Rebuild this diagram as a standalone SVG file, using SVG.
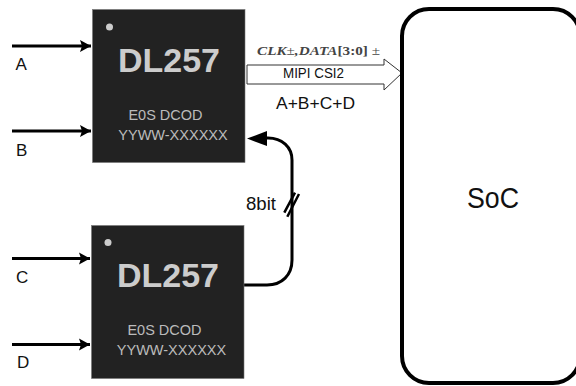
<svg xmlns="http://www.w3.org/2000/svg" width="576" height="386" viewBox="0 0 576 386">
<style>
.chip{fill:#222;stroke:#777;stroke-width:.6}
.dot{fill:#ccc}
.title{font:bold 34px "Liberation Sans",Arial,sans-serif;fill:#ccc;text-anchor:middle}
.small{font:14.500px "Liberation Sans",Arial,sans-serif;fill:#bbb;text-anchor:middle}
.lbl{font:17px "Liberation Sans",Arial,sans-serif;fill:#111}
.wire{fill:none;stroke:#000;stroke-width:3}
.head{fill:#000}
.nm{font-weight:normal;font-style:normal}
.up{font-style:normal}
</style>
<defs>
<marker id="ah" markerUnits="userSpaceOnUse" markerWidth="12" markerHeight="14" refX="11" refY="7" orient="auto"><path d="M0 1L11 7L0 13L2 7Z" fill="#000"/></marker>
</defs>
<rect width="576" height="386" fill="#fff"/>
<g id="connectors">
<path class="wire" d="M12 46H91" marker-end="url(#ah)"/>
<path class="wire" d="M12 131H91" marker-end="url(#ah)"/>
<path class="wire" d="M12 258.500H90" marker-end="url(#ah)"/>
<path class="wire" d="M12 344.500H90" marker-end="url(#ah)"/>
<path class="wire" d="M244 285H267C282 285 292 275 292 260V160C292 147 282 138 268 138H262"/>
<path class="head" d="M247 138.500L267 131V146Z"/>
<path d="M284.300 212.700L295 192.700M287.300 216.700L299 194" stroke="#000" stroke-width="2.500" fill="none"/>
<path d="M247 65H384V59L402 73L384 90V84H247Z" fill="#fff" stroke="#333" stroke-width="1"/>
</g>
<g id="chip-top">
<rect class="chip" x="92.500" y="9.500" width="152.500" height="153"/>
<circle class="dot" cx="109.500" cy="27" r="3.500"/>
<text class="title" x="169" y="72">DL257</text>
<text class="small" x="165.500" y="120">E0S DCOD</text>
<text class="small" x="173" y="140">YYWW-XXXXXX</text>
</g>
<g id="chip-bottom">
<rect class="chip" x="91.500" y="225.500" width="152.500" height="153"/>
<circle class="dot" cx="108" cy="242.500" r="3.500"/>
<text class="title" x="168" y="287">DL257</text>
<text class="small" x="164.500" y="335">E0S DCOD</text>
<text class="small" x="171.500" y="355">YYWW-XXXXXX</text>
</g>
<g id="soc">
<rect x="402" y="9" width="178" height="374" rx="27" fill="#fff" stroke="#000" stroke-width="4"/>
<text x="493" y="208" font-family="'Liberation Sans',Arial,sans-serif" font-size="29" fill="#111" text-anchor="middle" textLength="52" lengthAdjust="spacingAndGlyphs">SoC</text>
</g>
<g id="labels">
<text class="lbl" x="15.500" y="70">A</text>
<text class="lbl" x="16" y="156">B</text>
<text class="lbl" x="16" y="283">C</text>
<text class="lbl" x="17" y="368">D</text>
<text x="257" y="55" font-family="'Liberation Serif',serif" font-size="13.500" font-weight="bold" fill="#444" font-style="italic" textLength="123" lengthAdjust="spacingAndGlyphs">CLK<tspan class="nm">±</tspan>,DATA<tspan class="up">[3:0]</tspan> <tspan class="nm">±</tspan></text>
<text x="313.500" y="78" font-family="'Liberation Sans',Arial,sans-serif" font-size="14" fill="#111" text-anchor="middle" textLength="61" lengthAdjust="spacingAndGlyphs">MIPI CSI2</text>
<text x="315.500" y="109" font-family="'Liberation Sans',Arial,sans-serif" font-size="17" fill="#111" text-anchor="middle" textLength="79" lengthAdjust="spacingAndGlyphs">A+B+C+D</text>
<text x="261" y="209.500" font-family="'Liberation Sans',Arial,sans-serif" font-size="18" fill="#111" text-anchor="middle" textLength="30" lengthAdjust="spacingAndGlyphs">8bit</text>
</g>
</svg>
